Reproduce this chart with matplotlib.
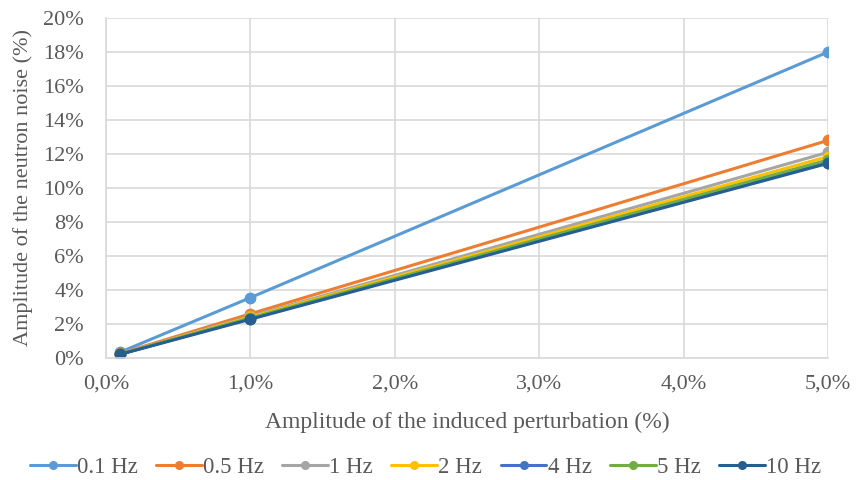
import matplotlib
matplotlib.use("Agg")
import matplotlib.pyplot as plt
from matplotlib.ticker import FuncFormatter

plt.rcParams['font.family'] = ['Liberation Serif', 'DejaVu Serif']

perturbation = [0.1, 1.0, 5.0]
series_names = ["0.1 Hz", "0.5 Hz", "1 Hz", "2 Hz", "4 Hz", "5 Hz", "10 Hz"]
noise_01 = [0.35, 3.55, 18.0]
noise_05 = [0.27, 2.60, 12.8]
noise_1 = [0.25, 2.45, 12.1]
noise_2 = [0.24, 2.40, 11.85]
noise_4 = [0.23, 2.32, 11.5]
noise_5 = [0.23, 2.35, 11.65]
noise_10 = [0.22, 2.28, 11.45]
colors = ["#5b9bd5", "#ed7d31", "#a5a5a5", "#ffc000", "#4472c4", "#70ad47", "#255e91"]

fig = plt.figure(figsize=(8.58, 4.8), dpi=100)
ax = fig.add_axes([106/858, 1-358/480, (828-106)/858, (358-18)/480])

all_series = [noise_01, noise_05, noise_1, noise_2, noise_4, noise_5, noise_10]
for name, vals, c in zip(series_names, all_series, colors):
    ax.plot(perturbation, vals, color=c, lw=2.2, marker='o', ms=7.5, label=name,
            solid_capstyle='round')

ax.set_xlim(0, 5)
ax.set_ylim(0, 20)
ax.set_xticks([0, 1, 2, 3, 4, 5])
ax.set_yticks(range(0, 21, 2))
ax.xaxis.set_major_formatter(FuncFormatter(lambda v, p: f"{v:.1f}%".replace('.', ',')))
ax.yaxis.set_major_formatter(FuncFormatter(lambda v, p: f"{v:.0f}%"))
ax.grid(True, color="#d9d9d9", lw=1.2)
ax.set_axisbelow(True)
for s in ['top', 'right']:
    ax.spines[s].set_visible(False)
for s in ['left', 'bottom']:
    ax.spines[s].set_color("#d9d9d9")
    ax.spines[s].set_linewidth(1.2)
ax.tick_params(length=0, labelsize=16, colors="#595959")
ax.tick_params(axis='y', pad=16)
ax.tick_params(axis='x', pad=12)
ax.set_xlabel("Amplitude of the induced perturbation (%)", fontsize=17, color="#595959", labelpad=13)
ax.set_ylabel("Amplitude of the neutron noise (%)", fontsize=16, color="#595959", labelpad=7)

leg = fig.legend(loc='center', bbox_to_anchor=(0.496, 1-467/480), ncol=7, frameon=False,
                 fontsize=16.5, handlelength=2.0, handletextpad=0.05, columnspacing=0.8,
                 labelcolor="#595959")
for h in leg.legend_handles:
    h.set_markersize(5.5)

fig.savefig("out.png", dpi=100)
